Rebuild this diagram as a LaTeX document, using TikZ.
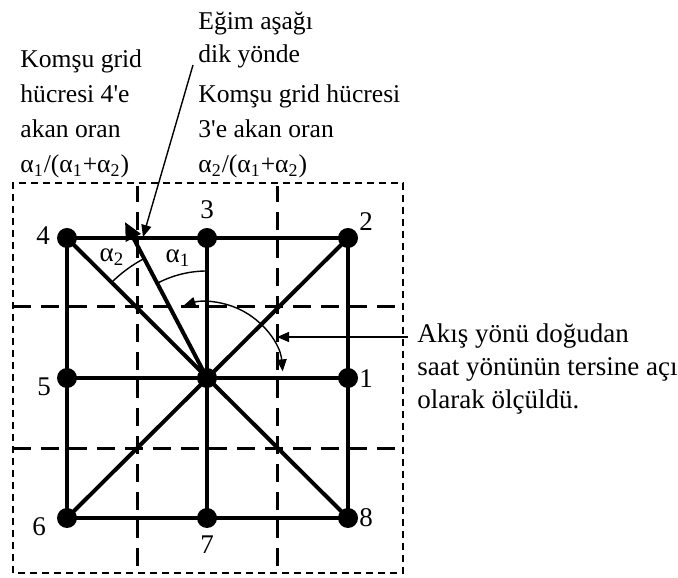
\documentclass[tikz,border=0pt]{standalone}
\usepackage{fontspec}
\setmainfont{Liberation Serif}
\usetikzlibrary{positioning,arrows.meta}
\tikzset{
  dot/.style={circle, fill=black, minimum size=10pt, inner sep=0pt},
  bond/.style={line width=2pt},
  cell/.style={line width=1.5pt, dash pattern=on 9pt off 5pt},
  frame/.style={line width=0.7pt, dash pattern=on 3.5pt off 2.5pt},
  num/.style={font=\fontsize{13.5}{15}\selectfont, inner sep=0pt},
  note/.style={font=\fontsize{12.8}{17.5}\selectfont, align=left, inner sep=0pt, anchor=base west},
  fine/.style={line width=0.7pt},
  arr/.style={-{Triangle[length=6pt, width=5pt]}, line width=0.7pt},
}

\begin{document}
\begin{tikzpicture}[x=0.5pt, y=0.5pt]
  \useasboundingbox (0,0) rectangle (678,577);
  % cells
  \draw[frame] (13,4) rectangle (403,394);
  \foreach \x in {137,277} \draw[cell] (\x,11) -- (\x,391);
  \foreach \y in {128,270} \draw[cell] (13,\y) -- (403,\y);
  % grid points
  \node[dot] (n4) at (67,339) {};
  \node[dot] (n3) at (207,339) {};
  \node[dot] (n2) at (348,339) {};
  \node[dot] (n5) at (67,199) {};
  \node[dot] (c) at (207,199) {};
  \node[dot] (n1) at (348,199) {};
  \node[dot] (n6) at (67,59) {};
  \node[dot] (n7) at (207,59) {};
  \node[dot] (n8) at (348,59) {};
  \node[num] (l1) at (366,198) {1};
  \node[num] (l2) at (366,355) {2};
  \node[num] (l3) at (207,367) {3};
  \node[num] (l4) at (43,341) {4};
  \node[num] (l5) at (44,190) {5};
  \node[num] (l6) at (39,50) {6};
  \node[num] (l7) at (207,32) {7};
  \node[num] (l8) at (366,59) {8};
  \draw[bond] (n4.center) -- (n2.center) -- (n8.center) -- (n6.center) -- cycle;
  \draw[bond] (n3.center) -- (n7.center);
  \draw[bond] (n5.center) -- (n1.center);
  \draw[bond] (n4.center) -- (n8.center);
  \draw[bond] (n2.center) -- (n6.center);
  % steepest descent
  \coordinate (tip) at (125,355);
  \draw[bond, -{Triangle[length=9pt, width=8pt]}] (c.center) -- (tip);
  \draw[fine] (c.center) ++(90:107) arc[start angle=90, end angle=117, radius=107];
  \draw[fine] (c.center) ++(117:135) arc[start angle=117, end angle=135, radius=135];
  \node[num] (a1) at (178,319) {α\textsubscript{1}};
  \node[num] (a2) at (112,320) {α\textsubscript{2}};
  \draw[fine, {Triangle[length=6pt, width=5pt]}-{Triangle[length=6pt, width=5pt]}]
    (c.center) ++(5:76) arc[start angle=5, end angle=108, radius=76];
  % notes (anchored at the last line)
  \node[note] (left) at (20,404) {Komşu grid\\hücresi 4\textquotesingle e\\akan oran\\α\textsubscript{1}/(α\textsubscript{1}+α\textsubscript{2})};
  \node[note, font=\fontsize{12.8}{16.5}\selectfont] (egim) at (198,514) {Eğim aşağı\\dik yönde};
  \node[note] (right) at (198,404) {Komşu grid hücresi\\3\textquotesingle e akan oran\\α\textsubscript{2}/(α\textsubscript{1}+α\textsubscript{2})};
  \node[note, font=\fontsize{13.5}{16.5}\selectfont] (akis) at (417,168) {Akış yönü doğudan\\saat yönünün tersine açı\\olarak ölçüldü.};
  \coordinate (egimp) at (193,512);
  \coordinate (egimt) at (143,340);
  \draw[arr] (egimp) -- (egimt);
  \coordinate (akisp) at (408,240);
  \coordinate (akist) at (277,240);
  \draw[arr] (akisp) -- (akist);
\end{tikzpicture}
\end{document}
